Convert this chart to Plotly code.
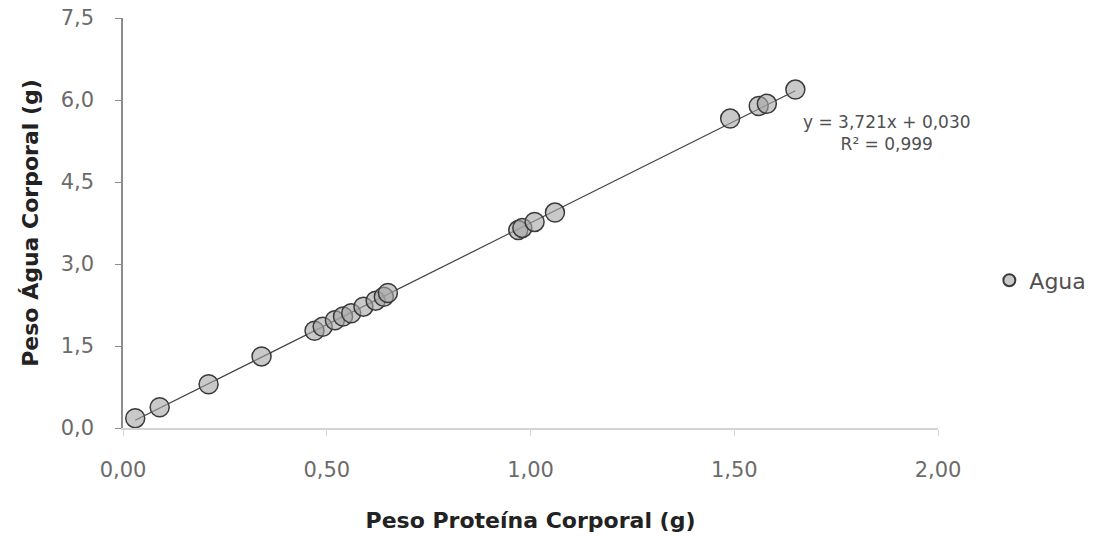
import plotly.graph_objects as go

# Peso proteína corporal (g) vs peso água corporal (g)
proteina = [0.03, 0.09, 0.21, 0.34, 0.47, 0.49, 0.52, 0.54, 0.56, 0.59, 0.62, 0.64, 0.65,
            0.97, 0.98, 1.01, 1.06, 1.49, 1.56, 1.58, 1.65]
agua = [0.18, 0.38, 0.80, 1.31, 1.78, 1.85, 1.97, 2.04, 2.10, 2.22, 2.33, 2.40, 2.47,
        3.62, 3.66, 3.77, 3.94, 5.66, 5.89, 5.93, 6.19]

# Linear trend y = a*x + b, R²
slope = 3.721
intercept = 0.030
r2 = 0.999

x_ticks = [0.0, 0.5, 1.0, 1.5, 2.0]
y_ticks = [0.0, 1.5, 3.0, 4.5, 6.0, 7.5]

FONT = "DejaVu Sans, sans-serif"

x_line = [min(proteina), max(proteina)]
y_line = [slope * v + intercept for v in x_line]

fig = go.Figure()
fig.add_trace(go.Scatter(
    x=x_line, y=y_line, mode="lines",
    line=dict(color="#404040", width=1.2),
    showlegend=False, hoverinfo="skip",
))
fig.add_trace(go.Scatter(
    x=proteina, y=agua, mode="markers", name="Agua",
    marker=dict(size=19, color="rgba(165,165,165,0.6)",
                line=dict(color="#3a3a3a", width=1.5)),
))

eq = f"y = {slope:.3f}x + {intercept:.3f}".replace(".", ",")
r2_txt = f"R² = {r2:.3f}".replace(".", ",")
fig.add_annotation(
    x=1.875, y=5.40, xref="x", yref="y",
    text=eq + "<br>" + r2_txt, showarrow=False, align="center",
    font=dict(family=FONT, size=17, color="#505050"),
)

fig.update_layout(
    width=1105, height=537,
    margin=dict(l=123, r=167, t=18, b=109),
    paper_bgcolor="white", plot_bgcolor="white",
    separators=",.",
    font=dict(family=FONT, color="#6b6b6b"),
    legend=dict(x=1.063, y=0.36, xanchor="left", yanchor="middle",
                font=dict(family=FONT, size=22, color="#505050"),
                itemsizing="constant"),
)
fig.update_xaxes(
    range=[0, 2], tickvals=x_ticks, tickformat=".2f",
    showgrid=False, zeroline=False, automargin=False,
    showline=True, linecolor="#d4d4d4", linewidth=1.5,
    ticks="outside", ticklen=6, tickcolor="#d4d4d4",
    tickfont=dict(family=FONT, size=21, color="#6b6b6b"),
    ticklabelstandoff=16,
    title=dict(text="<b>Peso Proteína Corporal (g)</b>",
               font=dict(family=FONT, size=22, color="#222222"), standoff=32),
)
fig.update_yaxes(
    range=[0, 7.5], tickvals=y_ticks, tickformat=".1f",
    showgrid=False, zeroline=False, automargin=False,
    showline=True, linecolor="#8c8c8c", linewidth=1.5,
    ticks="outside", ticklen=6, tickcolor="#8c8c8c",
    tickfont=dict(family=FONT, size=21, color="#6b6b6b"),
    ticklabelstandoff=17,
    title=dict(text="<b>Peso Água Corporal (g)</b>",
               font=dict(family=FONT, size=22, color="#222222"), standoff=16),
)

fig.write_html("out.html")
